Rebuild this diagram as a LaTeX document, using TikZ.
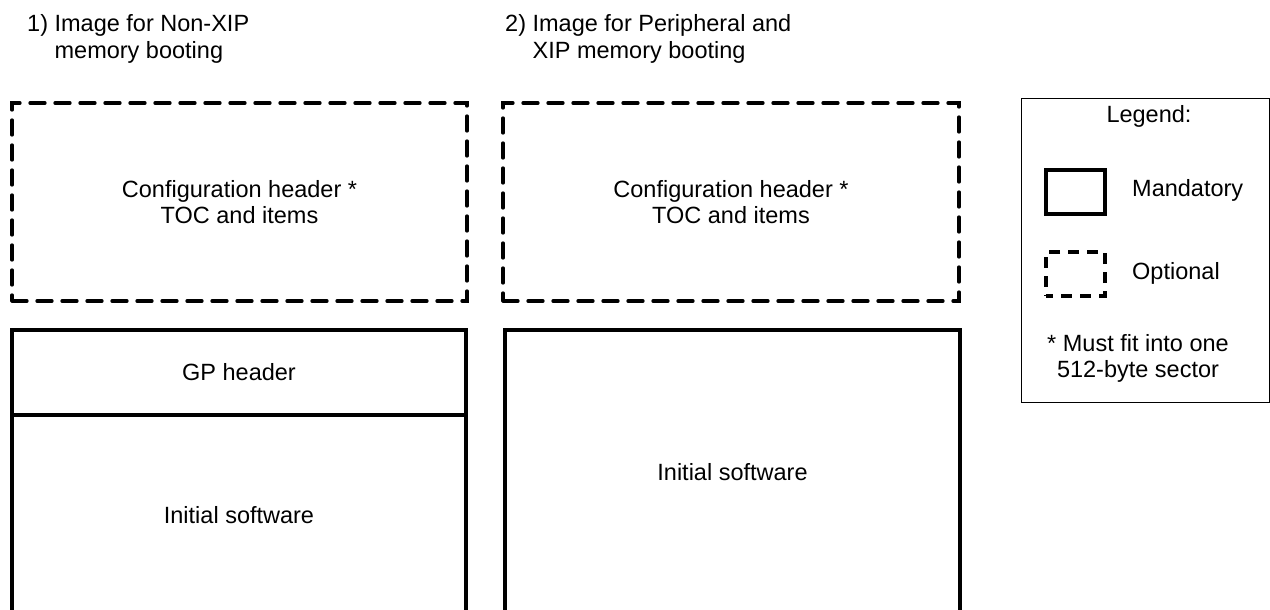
\documentclass[tikz,border=0pt]{standalone}
\usepackage{fontspec}
\setmainfont{Liberation Sans}
\tikzset{
  every node/.style={font=\fontsize{23.5}{26}\selectfont, text=black, inner sep=0pt},
  optbox/.style={draw, line width=3.3pt, dash pattern=on 15pt off 10pt, dash phase=0pt, line cap=round, align=center},
  mandbox/.style={draw, line width=3.3pt, align=center},
  legbox/.style={draw, line width=0.9pt},
  optsmall/.style={draw, line width=3.3pt, dash pattern=on 11pt off 8pt, dash phase=4pt},
  lbl/.style={align=center},
  ttl/.style={align=left, anchor=north west, font=\fontsize{23.5}{27}\selectfont}
}
\begin{document}
\begin{tikzpicture}[x=1pt, y=-1pt]
\useasboundingbox (0,0) rectangle (1270,610);
\clip (0,0) rectangle (1270,610);
% titles
\node[ttl] (t1) at (27,14) {1) Image for Non-XIP\\\phantom{1) }memory booting};
\node[ttl] (t2) at (505,14) {2) Image for Peripheral and\\\phantom{2) }XIP memory booting};
% column 1
\node[optbox, minimum width=455pt, minimum height=198pt] (c1) at (239.5,202) {Configuration header *\\TOC and items};
\node[mandbox, minimum width=454pt, minimum height=85pt] (gp) at (239,372.5) {GP header};
\node[mandbox, minimum width=454pt, minimum height=200pt] (is1) at (239,515) {Initial software};
% column 2
\node[optbox, minimum width=456pt, minimum height=198pt] (c2) at (731,202) {Configuration header *\\TOC and items};
\node[mandbox, minimum width=455pt, minimum height=285pt] (is2) at (732.5,472.5) {Initial software};
% legend
\node[legbox, minimum width=248pt, minimum height=304pt] (leg) at (1145,250) {};
\node (legt) at (1149,116) {Legend:};
\node[mandbox, minimum width=59pt, minimum height=44pt] (lm) at (1075.5,192) {};
\node[anchor=west] (lmt) at (1132,190) {Mandatory};
\node[optsmall, minimum width=59pt, minimum height=44pt] (lo) at (1075.5,274) {};
\node[anchor=west] (lot) at (1132,273) {Optional};
\node[lbl] (note) at (1138,358) {* Must fit into one\\512-byte sector};
\end{tikzpicture}
\end{document}
